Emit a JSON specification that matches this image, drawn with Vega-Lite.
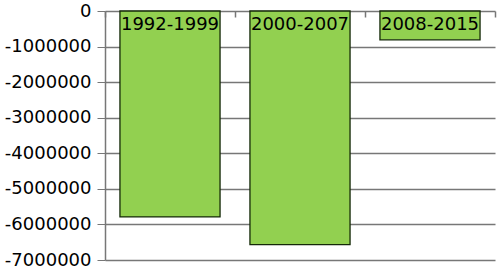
{
  "$schema": "https://vega.github.io/schema/vega-lite/v6.json",
  "autosize": "none",
  "width": 390,
  "height": 249,
  "padding": {"left": 105, "top": 11, "right": 5, "bottom": 9},
  "background": "white",
  "config": {"view": {"stroke": null}, "font": "DejaVu Sans",
    "axisY": {"labelOverlap": false, "labelFlush": false, "labelBound": false}},
  "data": {"values": [
    {"period": "1992-1999", "value": -5790000},
    {"period": "2000-2007", "value": -6570000},
    {"period": "2008-2015", "value": -810000}
  ]},
  "encoding": {
    "x": {"field": "period", "type": "nominal", "sort": null,
      "scale": {"paddingInner": 0, "paddingOuter": 0},
      "axis": {"orient": "top", "title": null, "labels": false, "tickBand": "extent", "ticks": true,
        "domain": false, "offset": -6, "tickColor": "#777777", "tickSize": 6, "tickWidth": 1.5, "grid": false, "zindex": 1}}
  },
  "layer": [
    {
      "mark": {"type": "bar", "color": "#92d050", "stroke": "#142808", "strokeWidth": 1.3, "width": {"band": 0.77}},
      "encoding": {
        "y": {"field": "value", "type": "quantitative",
          "scale": {"domain": [-7000000, 0], "nice": false},
          "axis": {"title": null, "values": [0, -1000000, -2000000, -3000000, -4000000, -5000000, -6000000, -7000000],
            "labelExpr": "'' + datum.value", "labelFontSize": 18, "labelColor": "#000000",
            "labelPadding": 6, "tickSize": 8, "tickColor": "#777777", "domainColor": "#777777",
            "gridColor": "#777777", "gridWidth": 1.3, "grid": true, "domainWidth": 1.5}}
      }
    },
    {
      "mark": {"type": "text", "fontSize": 18, "color": "#000000", "baseline": "middle", "dy": 14},
      "encoding": {
        "y": {"datum": 0, "type": "quantitative",
          "scale": {"domain": [-7000000, 0], "nice": false},
          "axis": {"title": null, "values": [0, -1000000, -2000000, -3000000, -4000000, -5000000, -6000000, -7000000],
            "labelExpr": "'' + datum.value", "labelFontSize": 18, "labelColor": "#000000",
            "labelPadding": 6, "tickSize": 8, "tickColor": "#777777", "domainColor": "#777777",
            "gridColor": "#777777", "gridWidth": 1.3, "grid": true, "domainWidth": 1.5}},
        "text": {"field": "period"}
      }
    }
  ]
}
